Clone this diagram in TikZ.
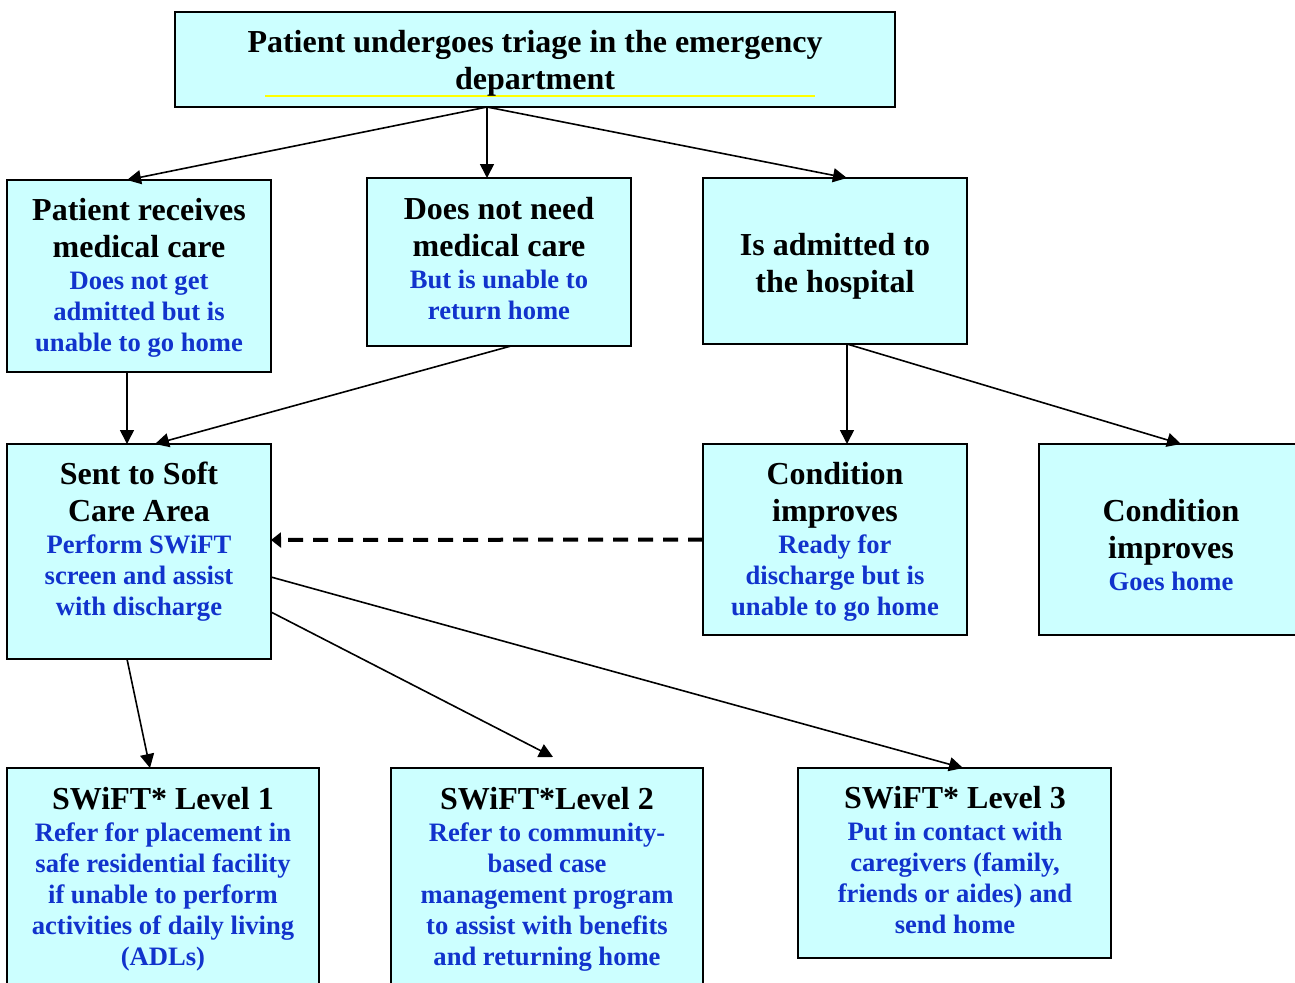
\documentclass[tikz,border=0pt]{standalone}
\usepackage{fontspec}
\setmainfont{Liberation Serif}
\usetikzlibrary{arrows.meta,calc}
\definecolor{boxfill}{HTML}{CCFFFF}
\definecolor{bluetxt}{HTML}{1133CC}
\definecolor{ulyellow}{HTML}{FFFF00}
\newcommand\hdf{\color{black}\fontsize{16}{0}\selectfont\rule[-5pt]{0pt}{18.5pt}}
\newcommand\blf{\color{bluetxt}\fontsize{13.3}{0}\selectfont\rule[-4.5pt]{0pt}{15.5pt}}
\newcommand\tightlines{\baselineskip=0pt\lineskip=0pt\lineskiplimit=0pt}
\begin{document}
\begin{tikzpicture}[x=0.5pt,y=-0.5pt,
  box/.style={draw=black, line width=1pt, fill=boxfill, inner sep=0pt, outer sep=0pt},
  txt/.style={align=center, inner sep=0pt, font=\bfseries\tightlines},
  arr/.style={line width=0.8pt, -{Triangle[length=7pt,width=7pt]}},
  darr/.style={line width=2pt, dash pattern=on 7.5pt off 5pt, -{Triangle[length=5pt,width=7.5pt]}}]
\useasboundingbox (0,0) rectangle (1295,982);
\clip (0,0) rectangle (1295,982);
\fill[white] (0,0) rectangle (1295,982);

% boxes
\node[box, minimum width=360pt, minimum height=47.5pt] (T) at (535,59.5) {};
\node[box, minimum width=132pt, minimum height=96pt]   (A) at (139,276) {};
\node[box, minimum width=132pt, minimum height=84pt]   (B) at (499,262) {};
\node[box, minimum width=132pt, minimum height=83pt]   (C) at (835,261) {};
\node[box, minimum width=132pt, minimum height=107.5pt] (D) at (139,551.5) {};
\node[box, minimum width=132pt, minimum height=95.5pt] (E) at (835,539.5) {};
\node[box, minimum width=132pt, minimum height=95.5pt] (F) at (1171,539.5) {};
\node[box, minimum width=156pt, minimum height=116pt]  (G) at (163,884) {};
\node[box, minimum width=156pt, minimum height=116pt]  (H) at (547,884) {};
\node[box, minimum width=156.5pt, minimum height=95pt] (I) at (954.5,863) {};

% yellow underline in top box
\coordinate (ulA) at (265,96);
\coordinate (ulB) at (815,96);
\draw[ulyellow, line width=0.8pt] (ulA) -- (ulB);

% texts
\node[txt] (Tt) at (535,62.5) {\hdf Patient undergoes triage in the emergency\\ \hdf department};
\node[txt] (At) at (139,277) {\hdf Patient receives\\ \hdf medical care\\ \blf Does not get\\ \blf admitted but is\\ \blf unable to go home};
\node[txt] (Bt) at (499,260) {\hdf Does not need\\ \hdf medical care\\ \blf But is unable to\\ \blf return home};
\node[txt] (Ct) at (835,265.5) {\hdf Is admitted to\\ \hdf the hospital};
\node[txt] (Dt) at (139,541) {\hdf Sent to Soft\\ \hdf Care Area\\ \blf Perform SWiFT\\ \blf screen and assist\\ \blf with discharge};
\node[txt] (Et) at (835,541) {\hdf Condition\\ \hdf improves\\ \blf Ready for\\ \blf discharge but is\\ \blf unable to go home};
\node[txt] (Ft) at (1171,547) {\hdf Condition\\ \hdf improves\\ \blf Goes home};
\node[txt] (Gt) at (163,878) {\hdf SWiFT* Level 1\\ \blf Refer for placement in\\ \blf safe residential facility\\ \blf if unable to perform\\ \blf activities of daily living\\ \blf (ADLs)};
\node[txt] (Ht) at (547,878) {\hdf SWiFT*Level 2\\ \blf Refer to community-\\ \blf based case\\ \blf management program\\ \blf to assist with benefits\\ \blf and returning home};
\node[txt] (It) at (955,862) {\hdf SWiFT* Level 3\\ \blf Put in contact with\\ \blf caregivers (family,\\ \blf friends or aides) and\\ \blf send home};

% connectors
\draw[arr] ($(T.south)+(-48,0)$) -- ($(A.north)+(-12,0)$);
\draw[arr] ($(T.south)+(-48,0)$) -- ($(B.north)+(-12,0)$);
\draw[arr] ($(T.south)+(-48,0)$) -- ($(C.north)+(12,0)$);
\draw[arr] ($(A.south)+(-12,0)$) -- ($(D.north)+(-12,0)$);
\draw[arr] ($(B.south)+(12,0)$) -- ($(D.north)+(16,0)$);
\draw[arr] ($(C.south)+(12,0)$) -- ($(E.north)+(12,0)$);
\draw[arr] ($(C.south)+(12,0)$) -- ($(F.north)+(10,0)$);
\draw[darr] (E.west) -- ($(D.east)+(0,-11.5)$);
\draw[arr] ($(D.south)+(-12,0)$) -- ($(G.north)+(-13,0)$);
\draw[arr] ($(D.east)+(0,60.5)$) -- ($(H.north)+(6,-11)$);
\draw[arr] ($(D.east)+(0,25.5)$) -- ($(I.north)+(8.5,0)$);
\end{tikzpicture}
\end{document}
